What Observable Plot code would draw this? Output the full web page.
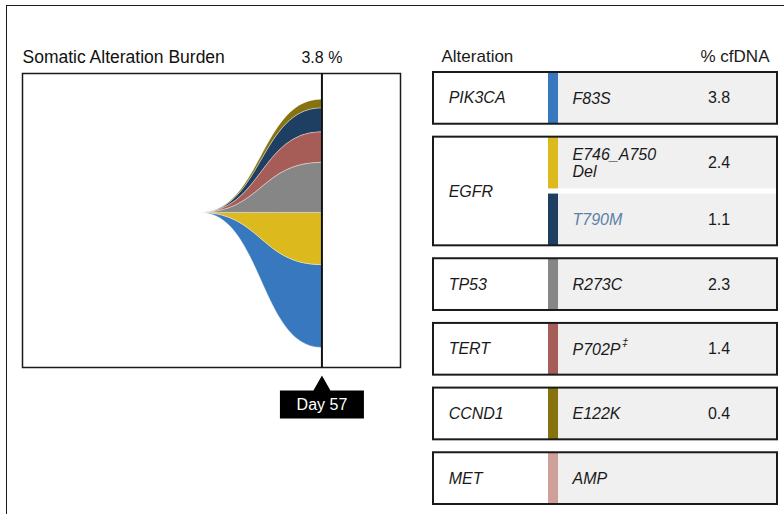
<!DOCTYPE html>
<html><head><meta charset="utf-8">
<script src="https://cdn.jsdelivr.net/npm/d3@7"></script>
<script src="https://cdn.jsdelivr.net/npm/@observablehq/plot@0.6"></script>
<style>
body{margin:0;background:#fff;}
#wrap{position:relative;width:784px;height:515px;overflow:hidden;background:#fff;font-family:"Liberation Sans",Arial,Helvetica,sans-serif;}
#outer{position:absolute;left:6px;top:5px;width:800px;height:508px;border-top:1.5px solid #1a1a1a;border-left:1.5px solid #1a1a1a;}
#left,#right{position:absolute;top:0;}
#left{left:0}
#right{left:420px}
</style></head><body>
<div id="wrap"><div id="outer"></div><div id="left"></div><div id="right"></div></div>
<script>
// ---- data ----
const genes    = ["PIK3CA", "EGFR", "EGFR", "TP53", "TERT", "CCND1", "MET"];
const variants = ["F83S", "E746_A750\nDel", "T790M", "R273C", "P702P", "E122K", "AMP"];
const notes    = ["", "", "", "", "\u2021", "", ""];
const cfDNA    = [3.8, 2.4, 1.1, 2.3, 1.4, 0.4, null];
const colors   = ["#3878be", "#dcb91c", "#1e3f61", "#868686", "#a75d57", "#86720f", "#cfa09a"];
const variantInk = ["#1a1a1a", "#1a1a1a", "#5d80a8", "#1a1a1a", "#1a1a1a", "#1a1a1a", "#1a1a1a"];
const streamSide = [-1, -1, 1, 1, 1, 1, 0];          // below / above the baseline
const stackOrder = [1, 0, 3, 4, 2, 5];               // nearest-to-baseline first
const timepoints = [0, 57];                          // origin, sample day
const sampleDay = 57;

const FONT = '"Liberation Sans", Arial, Helvetica, sans-serif';
const keys = genes.map((g, i) => g + " " + variants[i]);

// ---- stream (fish) plot ----
const stream = [];
cfDNA.forEach((v, i) => {
  if (v == null) return;
  timepoints.forEach(t => stream.push({key: keys[i], day: t, signed: t === sampleDay ? streamSide[i] * v : 0}));
});

const left = Plot.plot({
  width: 420, height: 515,
  marginLeft: 22, marginRight: 20, marginTop: 73, marginBottom: 148,
  style: {fontFamily: FONT, fontSize: "16px", background: "transparent", overflow: "visible", color: "#111"},
  x: {domain: [-84, 94], axis: null},
  y: {domain: [-7.1, 6.4], axis: null},
  color: {domain: keys, range: colors},
  marks: [
    Plot.areaY(stream, {x: "day", y: "signed", z: "key", fill: "key",
      order: stackOrder.map(i => keys[i]), curve: "bump-x",
      stroke: "#ffffff", strokeWidth: 0.6, strokeOpacity: 0.6}),
    Plot.frame({stroke: "#1a1a1a", strokeWidth: 1.5}),
    Plot.ruleX([sampleDay], {stroke: "#111", strokeWidth: 2}),
    Plot.text(["Somatic Alteration Burden"], {text: d => d, frameAnchor: "top-left",
      textAnchor: "start", lineAnchor: "bottom", dy: -11, fontSize: 17.5}),
    Plot.text([d3.max(cfDNA)], {x: () => sampleDay, text: d => `${d} %`, frameAnchor: "top",
      lineAnchor: "bottom", dy: -11, fontSize: 16}),
    Plot.dot([sampleDay], {x: d => d, frameAnchor: "bottom", r: 4, fill: "#000", stroke: "none",
      symbol: {draw(ctx) {
        ctx.moveTo(0, 8); ctx.lineTo(8.5, 23); ctx.lineTo(42, 23); ctx.lineTo(42, 51);
        ctx.lineTo(-42, 51); ctx.lineTo(-42, 23); ctx.lineTo(-8.5, 23); ctx.closePath();
      }}}),
    Plot.text([sampleDay], {x: d => d, text: d => `Day ${d}`, frameAnchor: "bottom",
      lineAnchor: "middle", dy: 37, fill: "#fff", fontSize: 16})
  ]
});
document.getElementById("left").appendChild(left);

// ---- table ----
const ROW = 1, GENE_GAP = 0.25, SUB_GAP = 0.1;
const rows = [];
let pos = 0;
genes.forEach((g, i) => {
  if (i > 0) pos += (g === genes[i - 1]) ? SUB_GAP : GENE_GAP;
  rows.push({gene: g, variant: variants[i], note: notes[i], value: cfDNA[i], color: colors[i],
    ink: variantInk[i], y1: pos, y2: pos + ROW});
  pos += ROW;
});
const geneBoxes = d3.groups(rows, d => d.gene).map(([g, rs]) => ({gene: g, y1: rs[0].y1, y2: rs[rs.length - 1].y2}));
const mid = d => (d.y1 + d.y2) / 2;
const COL = {geneText: 0.044, bar1: 0.3343, bar2: 0.3634, variantText: 0.404, value: 0.83};

const ctx = document.createElement("canvas").getContext("2d");
ctx.font = `italic 16px ${FONT}`;

const noteMarks = rows.filter(d => d.note).map(d =>
  Plot.text([d], {x: () => COL.variantText, y: mid, text: "note", textAnchor: "start",
    dx: ctx.measureText(d.variant).width + 1.5, dy: -7, fontSize: 11, fontStyle: "italic", fill: "#1a1a1a"}));

const right = Plot.plot({
  width: 364, height: 515,
  marginLeft: 13, marginRight: 7, marginTop: 72, marginBottom: 11,
  style: {fontFamily: FONT, fontSize: "16px", background: "transparent", overflow: "visible", color: "#1a1a1a"},
  x: {domain: [0, 1], axis: null},
  y: {domain: [0, pos], reverse: true, axis: null},
  color: {type: "identity"},
  marks: [
    Plot.rect(geneBoxes, {x1: () => 0, x2: () => 1, y1: "y1", y2: "y2", fill: "#fff"}),
    Plot.rect(rows, {x1: () => COL.bar1, x2: () => 1, y1: "y1", y2: "y2", fill: "#f0f0f0"}),
    Plot.rect(rows, {x1: () => COL.bar1, x2: () => COL.bar2, y1: "y1", y2: "y2", fill: "color"}),
    Plot.rect(geneBoxes, {x1: () => 0, x2: () => 1, y1: "y1", y2: "y2", fill: "none", stroke: "#1a1a1a", strokeWidth: 2}),
    Plot.text(geneBoxes, {x: () => COL.geneText, y: mid, text: "gene", textAnchor: "start", fontStyle: "italic", fill: "#1a1a1a"}),
    Plot.text(rows, {x: () => COL.variantText, y: mid, text: "variant", textAnchor: "start", fontStyle: "italic", fill: "ink", lineHeight: 1.05}),
    ...noteMarks,
    Plot.text(rows.filter(d => d.value != null), {x: () => COL.value, y: mid, text: d => d.value.toFixed(1), textAnchor: "middle", fill: "#1a1a1a"}),
    Plot.text(["Alteration"], {text: d => d, frameAnchor: "top-left", textAnchor: "start", lineAnchor: "bottom", dx: 8, dy: -11, fontSize: 17}),
    Plot.text(["% cfDNA"], {text: d => d, frameAnchor: "top-right", textAnchor: "end", lineAnchor: "bottom", dx: -8, dy: -11, fontSize: 17})
  ]
});
document.getElementById("right").appendChild(right);
</script>
</body></html>
